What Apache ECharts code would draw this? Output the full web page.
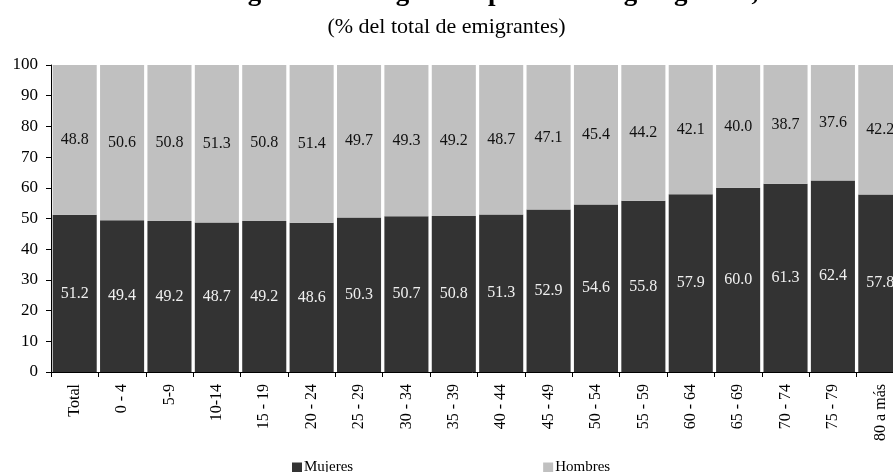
<!DOCTYPE html>
<html>
<head>
<meta charset="utf-8">
<script src="https://cdn.jsdelivr.net/npm/echarts@6/dist/echarts.min.js"></script>
<style>
  html, body { margin: 0; padding: 0; background: #fff; }
  #chart { width: 893px; height: 472px; }
</style>
</head>
<body>
<div id="chart"></div>
<script>
// grupos de edad
const categories = ['Total', '0 - 4', '5-9', '10-14', '15 - 19', '20 - 24', '25 - 29', '30 - 34', '35 - 39',
  '40 - 44', '45 - 49', '50 - 54', '55 - 59', '60 - 64', '65 - 69', '70 - 74', '75 - 79', '80 a más']
// % del total de emigrantes
const mujeres = [51.2, 49.4, 49.2, 48.7, 49.2, 48.6, 50.3, 50.7, 50.8, 51.3, 52.9, 54.6, 55.8, 57.9, 60.0, 61.3, 62.4, 57.8]
const hombres = [48.8, 50.6, 50.8, 51.3, 50.8, 51.4, 49.7, 49.3, 49.2, 48.7, 47.1, 45.4, 44.2, 42.1, 40.0, 38.7, 37.6, 42.2]

const serif = 'Liberation Serif'
const chart = echarts.init(document.getElementById('chart'))

chart.setOption({
  animation: false,
  title: [
    {
      text: 'Perú: Registro de emigrantes peruanos según género, 1994-2012',
      left: 140,
      top: -25,
      textStyle: { fontFamily: serif, fontSize: 27, fontWeight: 'bold', color: '#000' }
    },
    {
      text: '(% del total de emigrantes)',
      left: 'center',
      top: 11,
      textStyle: { fontFamily: serif, fontSize: 22, fontWeight: 'normal', color: '#000' }
    }
  ],
  // 坐标系 (el gráfico sigue más allá del borde derecho)
  grid: {
    left: 51,
    width: 853,
    top: 65,
    height: 307,
    outerBoundsMode: 'none'
  },
  legend: {
    data: ['Mujeres', 'Hombres'],
    left: 287,
    top: 455,
    itemWidth: 10,
    itemHeight: 10,
    itemGap: 190,
    icon: 'rect',
    textStyle: { fontFamily: serif, fontSize: 15, color: '#000', padding: [0, 0, 0, -3] }
  },
  xAxis: {
    type: 'category',
    data: categories,
    axisLine: { lineStyle: { color: '#000', width: 1 } },
    axisTick: { show: true, length: 5, lineStyle: { color: '#000' } },
    axisLabel: {
      rotate: 90,
      margin: 12,
      interval: 0,
      fontFamily: serif,
      fontSize: 16,
      color: '#000'
    }
  },
  yAxis: {
    type: 'value',
    min: 0,
    max: 100,
    interval: 10,
    splitLine: { show: false },
    axisLine: { show: true, lineStyle: { color: '#000' } },
    axisTick: { show: true, length: 5, lineStyle: { color: '#000' } },
    axisLabel: { fontFamily: serif, fontSize: 17, color: '#000', margin: 13 }
  },
  series: [
    {
      name: 'Mujeres',
      type: 'bar',
      stack: 'total',
      data: mujeres,
      barCategoryGap: '7%',
      itemStyle: { color: '#333333' },
      label: {
        show: true,
        position: 'inside',
        fontFamily: serif,
        fontSize: 16,
        color: '#f0f0f0',
        formatter: p => p.value.toFixed(1)
      }
    },
    {
      name: 'Hombres',
      type: 'bar',
      stack: 'total',
      data: hombres,
      barCategoryGap: '7%',
      itemStyle: { color: '#c0c0c0' },
      label: {
        show: true,
        position: 'inside',
        fontFamily: serif,
        fontSize: 16,
        color: '#111111',
        formatter: p => p.value.toFixed(1)
      }
    }
  ]
})
</script>
</body>
</html>
